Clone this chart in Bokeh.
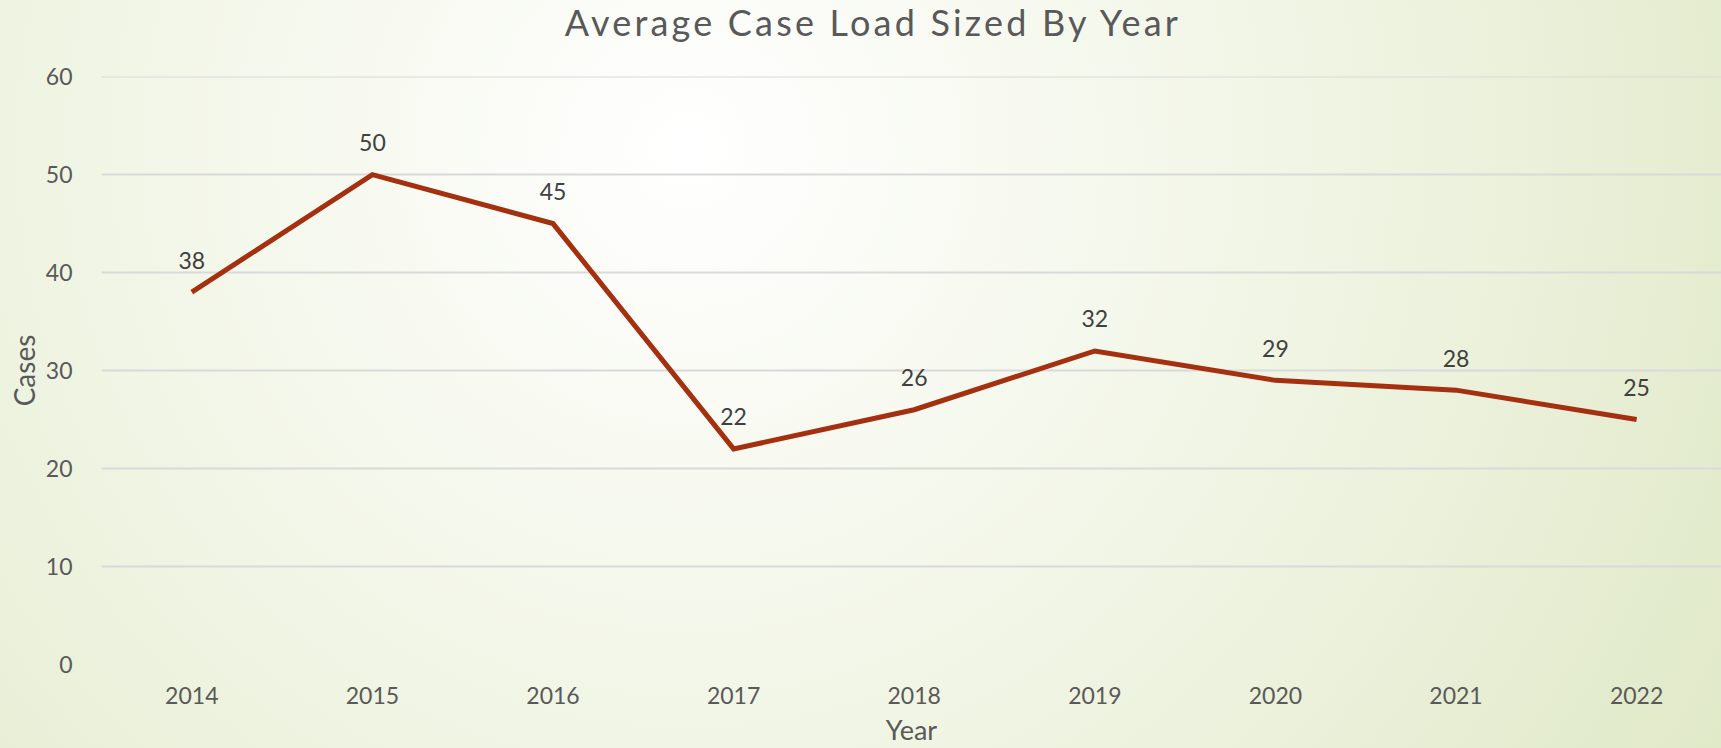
from bokeh.plotting import figure
from bokeh.models import (Range1d, SingleIntervalTicker, FixedTicker, ColumnDataSource,
                          Div, GlobalInlineStyleSheet)
from bokeh.layouts import column
from bokeh.core.properties import value
from bokeh.embed import file_html
from bokeh.resources import INLINE

years = ["2014", "2015", "2016", "2017", "2018", "2019", "2020", "2021", "2022"]
cases = [38, 50, 45, 22, 26, 32, 29, 28, 25]
title_text = "Average Case Load Sized By Year"
x_title = "Year"
y_title = "Cases"

FONT = "Lato"
TXT = "#595959"
LINE = "#A5300F"
GRAD = ("radial-gradient(circle farthest-corner at 40% 20%, #ffffff 0%, #f8faf2 25%, "
        "#eef3e0 60%, #e0e9c8 100%)")

xs = list(range(len(years)))
src = ColumnDataSource(dict(x=xs, y=cases, lab=[str(v) for v in cases]))

W = 1721
TOP_H = 50
H = 698

title_div = Div(
    text=('<div style="box-sizing:border-box; width:%dpx; padding-left:25px; '
          'text-align:center; font-family:Lato; font-size:36px; line-height:43px; '
          'letter-spacing:3.2px; color:%s; position:relative; top:1px; '
          'white-space:nowrap;">%s</div>') % (W, TXT, title_text),
    width=W, height=TOP_H, margin=(0, 0, 0, 0))

p = figure(width=W, height=H, output_backend="svg", toolbar_location=None,
           x_range=Range1d(-0.5, 8.47), y_range=Range1d(0, 60.01),
           min_border_left=101, min_border_right=0, min_border_top=26,
           min_border_bottom=83, margin=(0, 0, 0, 0))
p.background_fill_alpha = 0
p.border_fill_alpha = 0
p.outline_line_color = None

p.line("x", "y", source=src, line_color=LINE, line_width=5, line_join="miter")
p.text("x", "y", text="lab", source=src, text_font=value(FONT), text_font_size="23px",
       text_color="#404040", text_align="center", text_baseline="middle", y_offset=-32)

p.xaxis.ticker = FixedTicker(ticks=xs)
p.xaxis.major_label_overrides = {i: y for i, y in enumerate(years)}
p.yaxis.ticker = SingleIntervalTicker(interval=10)
for ax in (p.xaxis[0], p.yaxis[0]):
    ax.axis_line_color = None
    ax.major_tick_line_color = None
    ax.minor_tick_line_color = None
    ax.major_tick_out = 0
    ax.major_tick_in = 0
    ax.major_label_text_font = FONT
    ax.major_label_text_font_size = "23px"
    ax.major_label_text_color = TXT
    ax.axis_label_text_font = FONT
    ax.axis_label_text_font_size = "28px"
    ax.axis_label_text_color = TXT
    ax.axis_label_text_font_style = "normal"
p.xaxis.axis_label_text_font_size = "27px"
p.xaxis.major_label_standoff = 22
p.yaxis.major_label_standoff = 25
p.xaxis.axis_label = x_title
p.yaxis.axis_label = y_title
p.xaxis.axis_label_standoff = 6
p.yaxis.axis_label_standoff = 2

p.xgrid.grid_line_color = None
p.ygrid.grid_line_color = "#d9d9d9"
p.ygrid.grid_line_width = 2

layout = column(title_div, p, spacing=0)
layout.stylesheets = [GlobalInlineStyleSheet(css="html { background: %s; min-height: 100%%; }" % GRAD)]

open("out.html", "w").write(file_html(layout, INLINE))
